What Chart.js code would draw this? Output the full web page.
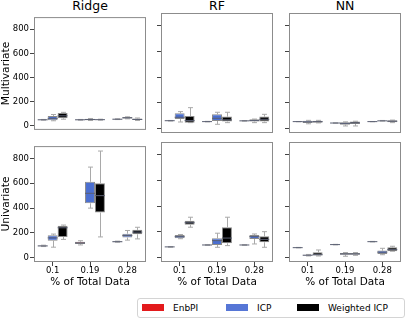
<!DOCTYPE html>
<html>
<head>
<meta charset="utf-8">
<script src="https://cdn.jsdelivr.net/npm/chart.js@4.4.1/dist/chart.umd.min.js"></script>
<style>
  body { margin: 0; background: #fff; }
  #wrap { position: relative; width: 407px; height: 318px; overflow: hidden; font-family: "DejaVu Sans", sans-serif; }
  #wrap canvas { position: absolute; }
  .coltitle { position: absolute; top: 0; width: 112px; height: 12px; line-height: 12px; text-align: center; font-size: 12.5px; color: #000; }
  #legend { position: absolute; left: 137px; top: 298px; width: 268px; height: 20px; border: 1px solid #d4d4d4; border-radius: 3px; box-sizing: border-box; font-size: 9px; color: #000; background: #fff; }
  .item { position: absolute; top: 0; height: 18px; line-height: 18px; white-space: nowrap; }
  .sw { display: inline-block; width: 22px; height: 7px; vertical-align: middle; margin-right: 9px; position: relative; top: -1px; }
</style>
</head>
<body>
<div id="wrap">
  <div id="legend">
    <div class="item" style="left:4px"><span class="sw" style="background:#e31a1c"></span>EnbPI</div>
    <div class="item" style="left:88px"><span class="sw" style="background:#5676d6"></span>ICP</div>
    <div class="item" style="left:159px"><span class="sw" style="background:#000"></span>Weighted ICP</div>
  </div>
</div>
<script>
// Achsen / Kategorien
const categories = ['0.1', '0.19', '0.28'];
const yTicks = [0, 200, 400, 600, 800];
const colTitles = ['Ridge', 'RF', 'NN'];
const rowTitles = ['Multivariate', 'Univariate'];
const seriesNames = ['EnbPI', 'ICP', 'Weighted ICP'];
const boxColors = ['#c42326', '#4b6fd0', '#000000'];

// jede Box: [unterer Whisker, Q1, Median, Q3, oberer Whisker]
const ridgeMultiEnbPI = [[44, 45, 47, 49, 50], [44, 45, 47, 49, 50], [49, 50, 52, 53, 55]];
const ridgeMultiICP   = [[39, 44, 59, 78, 91], [41, 43, 49, 55, 58], [55, 57, 63, 70, 72]];
const ridgeMultiWICP  = [[52, 59, 80, 104, 109], [44, 46, 48, 50, 52], [41, 45, 50, 58, 62]];

const rfMultiEnbPI = [[57, 58, 59, 60, 61], [50, 51, 52, 53, 54], [56, 57, 58, 59, 60]];
const rfMultiICP   = [[49, 73, 86, 117, 130], [31, 57, 78, 109, 125], [44, 52, 60, 70, 72]];
const rfMultiWICP  = [[44, 44, 60, 96, 161], [44, 52, 66, 91, 125], [44, 52, 70, 91, 109]];

const nnMultiEnbPI = [[51, 52, 52, 53, 53], [40, 41, 41, 42, 42], [51, 52, 52, 53, 53]];
const nnMultiICP   = [[35, 41, 50, 59, 62], [18, 28, 38, 47, 50], [56, 57, 58, 59, 61]];
const nnMultiWICP  = [[42, 44, 52, 59, 62], [18, 34, 42, 52, 55], [44, 47, 55, 62, 64]];

const ridgeUniEnbPI = [[88, 90, 93, 97, 99], [101, 108, 117, 127, 135], [123, 125, 127, 130, 132]];
const ridgeUniICP   = [[83, 135, 158, 179, 189], [399, 438, 519, 612, 731], [140, 161, 177, 192, 218]];
const ridgeUniWICP  = [[146, 166, 240, 257, 262], [166, 363, 500, 601, 861], [150, 187, 205, 223, 244]];

const rfUniEnbPI = [[79, 80, 81, 82, 83], [94, 95, 96, 97, 98], [94, 95, 96, 97, 98]];
const rfUniICP   = [[145, 149, 161, 174, 178], [78, 96, 130, 149, 188], [104, 143, 161, 174, 182]];
const rfUniWICP  = [[235, 255, 270, 286, 313], [91, 109, 150, 235, 313], [78, 117, 140, 164, 200]];

const nnUniEnbPI = [[74, 75, 75, 76, 77], [97, 98, 99, 100, 101], [120, 121, 122, 123, 124]];
const nnUniICP   = [[10, 13, 16, 20, 22], [8, 20, 26, 34, 37], [20, 26, 40, 52, 70]];
const nnUniWICP  = [[10, 13, 20, 39, 57], [15, 20, 26, 34, 37], [47, 47, 60, 78, 86]];

const panels = [
  { row: 0, col: 0, series: [ridgeMultiEnbPI, ridgeMultiICP, ridgeMultiWICP] },
  { row: 0, col: 1, series: [rfMultiEnbPI, rfMultiICP, rfMultiWICP] },
  { row: 0, col: 2, series: [nnMultiEnbPI, nnMultiICP, nnMultiWICP] },
  { row: 1, col: 0, series: [ridgeUniEnbPI, ridgeUniICP, ridgeUniWICP] },
  { row: 1, col: 1, series: [rfUniEnbPI, rfUniICP, rfUniWICP] },
  { row: 1, col: 2, series: [nnUniEnbPI, nnUniICP, nnUniWICP] }
];

Chart.defaults.font.family = "'DejaVu Sans', sans-serif";
Chart.defaults.color = '#000';

// Layout der Subplots
const colLeft = [34, 161, 289];
const rowTop = [13, 142];
const plotW = 112;
const plotH = 120;
const axisW = 34;

// Whisker, Caps und Median
const boxPlugin = {
  id: 'boxes',
  beforeDatasetsDraw(chart) {
    const ctx = chart.ctx;
    const y = chart.scales.y;
    ctx.save();
    ctx.strokeStyle = '#a9a9a9';
    ctx.lineWidth = 1;
    chart.data.datasets.forEach((ds, i) => {
      chart.getDatasetMeta(i).data.forEach((el, j) => {
        const s = ds.stats[j];
        const x = Math.round(el.x) + 0.5;
        const cap = el.width / 4;
        ctx.beginPath();
        ctx.moveTo(x, y.getPixelForValue(s[3]));
        ctx.lineTo(x, y.getPixelForValue(s[4]));
        ctx.moveTo(x, y.getPixelForValue(s[1]));
        ctx.lineTo(x, y.getPixelForValue(s[0]));
        ctx.moveTo(x - cap, y.getPixelForValue(s[4]));
        ctx.lineTo(x + cap, y.getPixelForValue(s[4]));
        ctx.moveTo(x - cap, y.getPixelForValue(s[0]));
        ctx.lineTo(x + cap, y.getPixelForValue(s[0]));
        ctx.stroke();
      });
    });
    ctx.restore();
  },
  afterDatasetsDraw(chart) {
    const ctx = chart.ctx;
    const y = chart.scales.y;
    ctx.save();
    ctx.strokeStyle = '#5a5f72';
    ctx.lineWidth = 1;
    chart.data.datasets.forEach((ds, i) => {
      chart.getDatasetMeta(i).data.forEach((el, j) => {
        const m = y.getPixelForValue(ds.stats[j][2]);
        ctx.beginPath();
        ctx.moveTo(el.x - el.width / 2, m);
        ctx.lineTo(el.x + el.width / 2, m);
        ctx.stroke();
      });
    });
    ctx.restore();
  }
};

// Rahmen um die Plotfläche
const framePlugin = {
  id: 'frame',
  afterDraw(chart) {
    const a = chart.chartArea;
    const ctx = chart.ctx;
    ctx.save();
    ctx.strokeStyle = '#8c8c8c';
    ctx.lineWidth = 1;
    ctx.strokeRect(a.left + 0.5, a.top + 0.5, a.right - a.left - 1, a.bottom - a.top - 1);
    ctx.restore();
  }
};

const wrap = document.getElementById('wrap');

// Spaltentitel
colTitles.forEach((t, c) => {
  const d = document.createElement('div');
  d.className = 'coltitle';
  d.style.left = colLeft[c] + 'px';
  d.textContent = t;
  wrap.appendChild(d);
});

panels.forEach(p => {
  const bottomRow = p.row === 1;
  const xAxisH = bottomRow ? 30 : 3;
  const w = axisW + plotW + 3;
  const h = 2 + plotH + xAxisH;
  const canvas = document.createElement('canvas');
  canvas.width = w;
  canvas.height = h;
  canvas.style.left = (colLeft[p.col] - axisW) + 'px';
  canvas.style.top = (rowTop[p.row] - 2) + 'px';
  canvas.style.width = w + 'px';
  canvas.style.height = h + 'px';
  wrap.appendChild(canvas);

  new Chart(canvas, {
    type: 'bar',
    data: {
      labels: categories,
      datasets: p.series.map((s, k) => ({
        label: seriesNames[k],
        data: s.map(b => [b[1], b[3]]),
        stats: s,
        backgroundColor: boxColors[k],
        borderColor: '#8a8a8a',
        borderWidth: 1,
        borderSkipped: false,
        categoryPercentage: 0.8,
        barPercentage: 1
      }))
    },
    options: {
      responsive: false,
      animation: false,
      devicePixelRatio: 1,
      layout: { padding: { left: 0, right: 3, top: 2, bottom: 0 } },
      plugins: {
        legend: { display: false },
        tooltip: { enabled: false },
        title: { display: false }
      },
      scales: {
        x: {
          afterFit: s => { s.height = xAxisH; },
          grid: { display: bottomRow, offset: false, drawOnChartArea: false, tickLength: 4, tickColor: '#444' },
          border: { display: false },
          ticks: { display: bottomRow, font: { size: 8.5 }, padding: 0, color: '#000', maxRotation: 0 },
          title: {
            display: bottomRow,
            text: '% of Total Data',
            font: { size: 10.5 },
            padding: { top: 0, bottom: 3 },
            color: '#000'
          }
        },
        y: {
          min: -37,
          max: 901,
          afterFit: s => { s.width = axisW; },
          afterBuildTicks: s => { s.ticks = yTicks.map(v => ({ value: v })); },
          grid: { drawOnChartArea: false, tickLength: 4, tickColor: '#444' },
          border: { display: false },
          ticks: { display: p.col === 0, autoSkip: false, font: { size: 8.5 }, padding: 1, color: '#000' },
          title: {
            display: p.col === 0,
            text: rowTitles[p.row],
            font: { size: 10.7 },
            padding: 0,
            color: '#000'
          }
        }
      }
    },
    plugins: [boxPlugin, framePlugin]
  });
});
</script>
</body>
</html>
